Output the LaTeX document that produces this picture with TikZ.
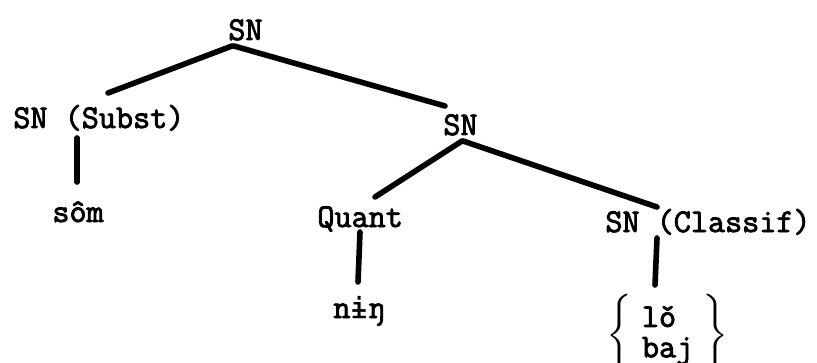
\documentclass[tikz,border=0pt]{standalone}
\usepackage{exscale}
\usepackage{fontspec}
\newfontfamily\treefont{Latin Modern Mono}[FakeBold=2.5]
\newfontfamily\ipafont{DejaVu Sans Mono}[Scale=0.87, FakeBold=1.5]
\usetikzlibrary{calc}
\renewcommand\arraystretch{0.8}

\begin{document}
\begin{tikzpicture}[
  x=0.5pt, y=-0.5pt,
  lbl/.style={inner sep=0pt, anchor=base west, font=\fontsize{16.6}{19}\treefont},
  branch/.style={line width=2.8pt, line cap=round},
]
  \useasboundingbox (0,0) rectangle (817,363);
  % Strom jmenne fraze
  \node[lbl] (top) at (228,40) {SN};
  \node[lbl] (subst) at (13,128) {SN (Subst)};
  \node[lbl] (mid) at (443,135) {SN};
  \node[lbl] (quant) at (317,227) {Quant};
  \node[lbl] (classif) at (605,232) {SN (Classif)};
  \node[lbl] (som) at (52,222) {sôm};
  \node[lbl] (ning) at (333,318) {n{\ipafont ɨ}ŋ};
  \node[lbl, anchor=west] (lobaj) at (606,336)
    {$\left\{\vphantom{\rule[-16pt]{0pt}{36pt}}\;\begin{tabular}{@{}l@{}}lǒ\\baj\end{tabular}\;\right\}$};
  \draw[branch] ($(top.base west)+(4,6)$) -- ($(subst.base west)+(95,-35)$);
  \draw[branch] ($(top.base west)+(6,6)$) -- ($(mid.base west)+(2,-29)$);
  \draw[branch] ($(mid.base west)+(19,6)$) -- ($(quant.base west)+(58,-30)$);
  \draw[branch] ($(mid.base west)+(20,6)$) -- ($(classif.base west)+(52,-25)$);
  \draw[branch] ($(subst.base west)+(64,10)$) -- ($(som.base west)+(25,-40)$);
  \draw[branch] ($(quant.base west)+(43,5)$) -- ($(ning.base west)+(25,-36)$);
  \draw[branch] ($(classif.base west)+(52,6)$) -- ($(lobaj.west)+(49,-51)$);
\end{tikzpicture}
\end{document}
